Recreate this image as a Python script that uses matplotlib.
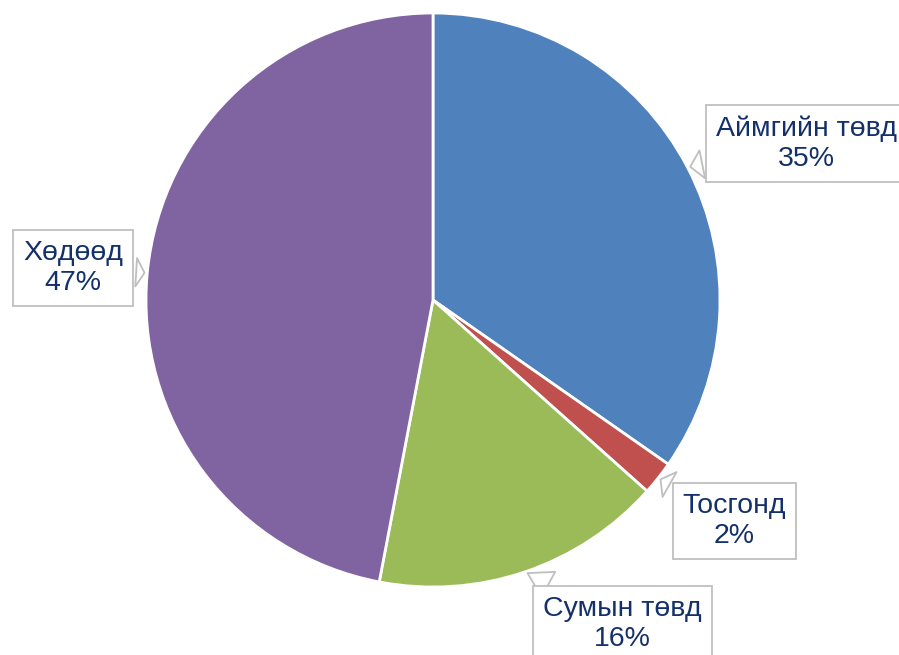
import matplotlib.pyplot as plt
import numpy as np

labels = ['Аймгийн төвд', 'Тосгонд', 'Сумын төвд', 'Хөдөөд']
shares = [34.7, 1.9, 16.4, 47.0]
colors = ['#4F81BD', '#C0504D', '#9BBB59', '#8064A2']

# where each callout box sits (data coords, pie radius = 1)
label_pos = [(1.30, 0.545), (1.05, -0.77), (0.66, -1.13), (-1.255, 0.11)]

plt.rcParams['font.family'] = ['Liberation Sans', 'DejaVu Sans']

fig = plt.figure(figsize=(8.99, 6.55), dpi=100)
ax = fig.add_axes([146 / 899, 68 / 655, 574 / 899, 574 / 655])

wedges, _ = ax.pie(shares, colors=colors, startangle=90, counterclock=False,
                   radius=1.0, wedgeprops=dict(edgecolor='white', linewidth=2))

for w, lab, val, pos in zip(wedges, labels, shares, label_pos):
    ang = np.deg2rad((w.theta1 + w.theta2) / 2)
    tip = (np.cos(ang), np.sin(ang))
    ax.annotate(f'{lab}\n{round(val):d}%', xy=tip, xytext=pos,
                ha='center', va='center', fontsize=20.5, color='#13306B',
                linespacing=1.2, annotation_clip=False,
                bbox=dict(boxstyle='square,pad=0.35', fc='white', ec='#BFBFBF', lw=1.3),
                arrowprops=dict(arrowstyle='wedge,tail_width=1.0,shrink_factor=0.5',
                                fc='white', ec='#BFBFBF', lw=1.3))

ax.set_xlim(-1, 1)
ax.set_ylim(-1, 1)
ax.axis('off')

plt.savefig('out.png', dpi=100)
